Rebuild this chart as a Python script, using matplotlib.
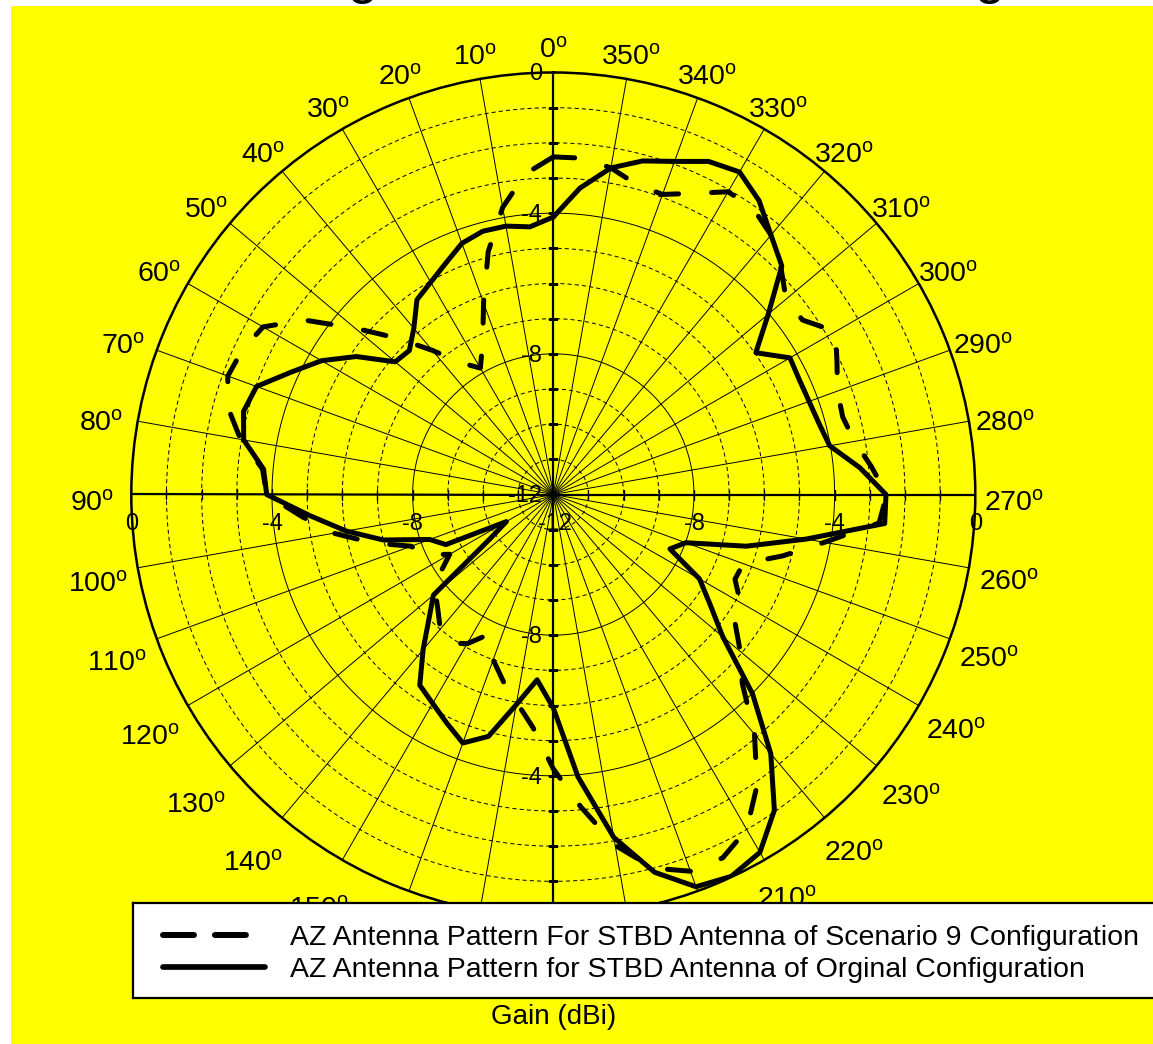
import numpy as np
import matplotlib.pyplot as plt
from matplotlib.lines import Line2D
from matplotlib.patches import Rectangle
from matplotlib.font_manager import FontProperties

plt.rcParams['font.family'] = ['Liberation Sans', 'DejaVu Sans']
plt.rcParams['lines.scale_dashes'] = False

W, H, DPI = 1153, 1044, 100

# azimuth in degrees, counter-clockwise from the top, 5 degree steps
azimuth = np.arange(0, 360, 5)

gain_scenario9 = [
    -2.40, -2.85, -3.71, -4.85, -6.20, -7.25, -7.85, -7.43, -6.65, -5.71,
    -4.64, -3.35, -2.47, -2.25, -2.15, -2.42, -2.97, -3.70, -3.85, -4.82,
    -5.66, -6.68, -7.70, -7.95, -8.60, -8.05, -7.63, -7.36, -7.00, -6.85,
    -7.10, -7.60, -7.00, -6.50, -6.00, -5.35, -4.20, -3.09, -1.87, -1.00,
    -0.60, -0.60, -1.00, -1.90, -3.10, -4.40, -5.06, -5.70, -5.86, -6.30,
    -6.25, -5.25, -4.17, -2.70, -2.52, -2.92, -3.30, -3.48, -3.40, -3.10,
    -2.73, -3.35, -3.36, -2.85, -2.37, -2.08, -2.06, -2.55, -2.92, -2.87,
    -2.57, -2.40,
]

gain_original = [
    -4.11, -4.36, -4.25, -4.25, -4.40, -4.75, -5.03, -5.24, -5.83, -6.21,
    -6.13, -5.16, -4.39, -3.77, -3.02, -2.88, -3.06, -3.73, -3.85, -5.06,
    -6.02, -7.00, -8.26, -8.63, -10.46, -9.80, -7.55, -7.00, -6.24, -5.38,
    -5.14, -4.83, -4.48, -4.88, -5.93, -6.71, -5.93, -3.94, -2.10, -0.88,
    -0.13, -0.02, -0.25, -1.04, -2.38, -3.99, -5.71, -6.56, -7.20, -8.34,
    -7.99, -6.32, -4.70, -2.54, -2.54, -3.25, -4.02, -4.18, -4.26, -4.28,
    -4.23, -4.97, -4.02, -2.81, -2.37, -1.80, -1.41, -1.55, -1.92, -2.18,
    -2.57, -3.25,
]

series_labels = [
    'AZ Antenna Pattern For STBD Antenna of Scenario 9 Configuration',
    'AZ Antenna Pattern for STBD Antenna of Orginal Configuration',
]

r_min, r_max = -12, 0
ring_values = np.arange(-11, 0)
ring_labels = [0, -4, -8, -12]
# 160..200 sit fully under the legend box, as in the original
angle_ticks = np.arange(0, 360, 10)
angle_labels = [a for a in angle_ticks if not 160 <= a <= 200]

# only the descenders of this title show at the top edge
title_text = 'AZ Pattern: Original vs. Scenario 9 Configuration'


def place_title(fig):
    # size and shift the title so its two g's sit where the reference has them
    renderer = fig.canvas.get_renderer()

    def width(s, size):
        fp = FontProperties(family='Liberation Sans', size=size)
        return renderer.get_text_width_height_descent(s, fp, ismath=False)[0]

    p1 = title_text[:title_text.index('g') + 1]
    p2 = title_text[:title_text.rindex('g') + 1]
    size = 38 * 626 / (width(p2, 38) - width(p1, 38))
    x0 = 363 - (width(p1, size) - width('g', size) / 2)
    fig.text(x0 / W, (H + 8) / H, title_text, ha='left', va='baseline',
             fontsize=size)


def main():
    fig = plt.figure(figsize=(W / DPI, H / DPI), dpi=DPI, facecolor='white')

    # yellow page behind everything
    fig.add_artist(Rectangle((11 / W, 0), 1, (H - 6) / H,
                             transform=fig.transFigure, facecolor='#ffff00',
                             edgecolor='none', zorder=-10))

    cx, cy, R = 553.3, 494.5, 422.0
    ax = fig.add_axes([(cx - R) / W, 1 - (cy + R) / H, 2 * R / W, 2 * R / H],
                      projection='polar')
    ax.set_facecolor('none')
    ax.set_theta_zero_location('N')
    ax.set_theta_direction(1)
    ax.set_ylim(r_min, r_max)
    ax.set_xticks([])
    ax.set_yticks([])
    ax.grid(False)
    ax.spines['polar'].set_linewidth(1.8)

    # rings
    th = np.linspace(0, 2 * np.pi, 721)
    for r in ring_values:
        if r % 4 == 0:
            ax.plot(th, np.full_like(th, r), color='k', lw=0.7, zorder=1)
        else:
            ax.plot(th, np.full_like(th, r), color='k', lw=0.7,
                    ls=(0, (3.0, 2.2)), zorder=1)

    # spokes
    for a in angle_ticks:
        t = np.deg2rad(a)
        ax.plot([t, t], [r_min, r_max], color='k',
                lw=1.6 if a % 90 == 0 else 0.7, zorder=1)

    # little ticks on the axis cross
    for a in (0, 90, 180, 270):
        t = np.deg2rad(a)
        ax.plot(np.full(len(ring_values), t), ring_values, ls='none',
                marker='_' if a in (0, 180) else '|', ms=7.5, mew=1.0,
                color='k', zorder=1)

    # data
    th_d = np.deg2rad(np.append(azimuth, azimuth[0]))
    g9 = np.append(gain_scenario9, gain_scenario9[0])
    g0 = np.append(gain_original, gain_original[0])
    ax.plot(th_d, g9, color='k', lw=3.6, ls=(0, (16.6, 23.8)),
            dash_capstyle='round', zorder=3)
    ax.plot(th_d, g0, color='k', lw=3.6, solid_joinstyle='round',
            solid_capstyle='round', zorder=3)

    # gain labels along the axis cross
    for r in ring_labels:
        ax.annotate(str(r), xy=(0, r), xytext=(-11, -2),
                    textcoords='offset pixels', ha='right', va='center',
                    fontsize=17, annotation_clip=False, zorder=4)
        if r != -12:
            if r != 0:
                ax.annotate(str(r), xy=(np.pi, r), xytext=(-11, -2),
                            textcoords='offset pixels', ha='right',
                            va='center', fontsize=17, annotation_clip=False,
                            zorder=4)
            for a in (np.pi / 2, 3 * np.pi / 2):
                ax.annotate(str(r), xy=(a, r), xytext=(0, -29),
                            textcoords='offset pixels', ha='center',
                            va='center', fontsize=17, annotation_clip=False,
                            zorder=4)
        else:
            ax.annotate(str(r), xy=(0, r), xytext=(2, -29),
                        textcoords='offset pixels', ha='center', va='center',
                        fontsize=17, annotation_clip=False, zorder=4)

    # azimuth labels round the rim
    for a in angle_labels:
        t = np.deg2rad(a)
        s, c = np.sin(t), np.cos(t)
        ux, uy = -s, c
        d = 25 + 10 * (1 - c) + 4 * abs(s)
        drop = 3 + 6 * abs(s) + max(0.0, -c) * (5 if s > 0 else -7)
        ax.annotate(r'$\mathregular{%d^{o}}$' % a, xy=(t, r_max),
                    xytext=(ux * d, uy * d - drop), textcoords='offset pixels',
                    ha='center', va='center', fontsize=20.5,
                    annotation_clip=False, zorder=4)

    # legend box
    lax = fig.add_axes([133 / W, 46 / H, (1180 - 133) / W, 95 / H])
    lax.set_xticks([])
    lax.set_yticks([])
    lax.set_facecolor('white')
    for sp in lax.spines.values():
        sp.set_linewidth(1.6)
    handles = [
        Line2D([], [], color='k', lw=4.3, ls=(0, (22.3, 15.1)),
               dash_capstyle='round'),
        Line2D([], [], color='k', lw=4.1, solid_capstyle='round'),
    ]
    lax.legend(handles, series_labels, loc='upper left',
               bbox_to_anchor=(30 / 1047, 1 - 22.4 / 95), frameon=False,
               fontsize=20.5, borderpad=0, borderaxespad=0, handlelength=3.58,
               handletextpad=0.88, labelspacing=0.2)

    fig.text(554 / W, 1 - 1017 / H, 'Gain (dBi)', ha='center', va='center',
             fontsize=20)

    place_title(fig)

    fig.savefig('out.png', dpi=DPI, facecolor='white')


if __name__ == '__main__':
    main()
